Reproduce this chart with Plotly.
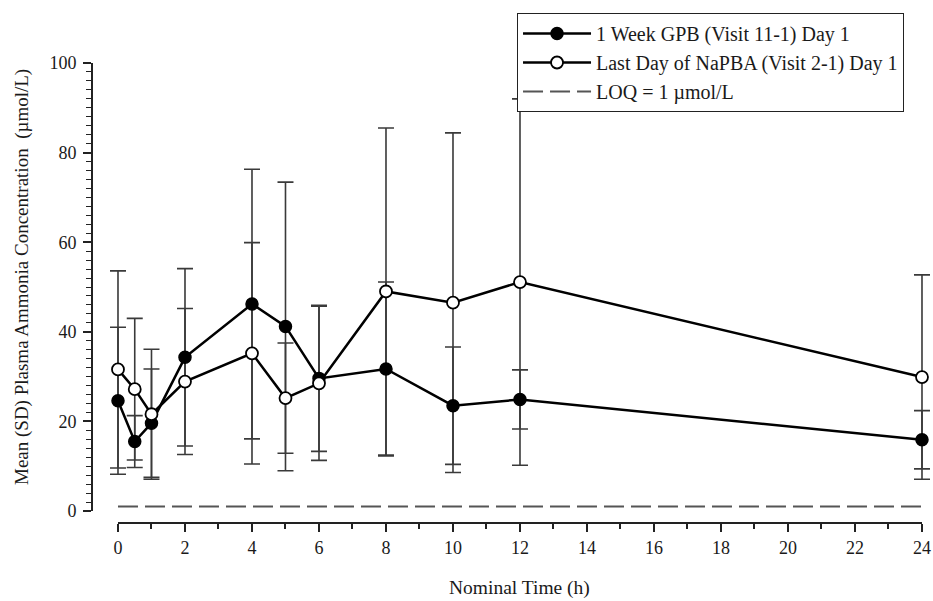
import plotly.graph_objects as go

times = [0, 0.5, 1, 2, 4, 5, 6, 8, 10, 12, 24]
gpb_mean = [24.6, 15.5, 19.6, 34.3, 46.2, 41.2, 29.6, 31.7, 23.5, 24.9, 15.9]
gpb_sd = [16.4, 5.8, 12.1, 19.8, 30.1, 32.2, 16.3, 19.4, 13.1, 6.6, 6.5]
napba_mean = [31.6, 27.2, 21.6, 28.9, 35.2, 25.2, 28.5, 49.0, 46.5, 51.1, 29.9]
napba_sd = [22.0, 15.8, 14.5, 16.3, 24.7, 12.3, 17.2, 36.5, 37.9, 40.9, 22.8]
loq_x = [0, 24]
loq_y = [1, 1]

name_gpb = "1 Week GPB (Visit 11-1) Day 1"
name_napba = "Last Day of NaPBA (Visit 2-1) Day 1"
name_loq = "LOQ = 1 µmol/L"
x_title = "Nominal Time (h)"
y_title = "Mean (SD) Plasma Ammonia Concentration  (µmol/L)"

FONT = "Liberation Serif"
ERRC = "#3a3a3a"

fig = go.Figure()

# error bars first (behind markers)
for m, sd in [(gpb_mean, gpb_sd), (napba_mean, napba_sd)]:
    fig.add_trace(go.Scatter(
        x=times, y=m, mode="markers",
        marker=dict(size=1, color="rgba(0,0,0,0)"),
        error_y=dict(type="data", array=sd, visible=True, color=ERRC,
                     thickness=1.6, width=8),
        showlegend=False, hoverinfo="skip"))

fig.add_trace(go.Scatter(
    x=times, y=gpb_mean, mode="lines+markers", name=name_gpb,
    line=dict(color="black", width=2.5),
    marker=dict(symbol="circle", size=12, color="black",
                line=dict(color="black", width=1.5))))

fig.add_trace(go.Scatter(
    x=times, y=napba_mean, mode="lines+markers", name=name_napba,
    line=dict(color="black", width=2.5),
    marker=dict(symbol="circle", size=12, color="white",
                line=dict(color="black", width=1.8))))

fig.add_trace(go.Scatter(
    x=loq_x, y=loq_y, mode="lines", name=name_loq,
    line=dict(color="#555555", width=2, dash="20px,7px")))

# x-axis line spanning 0..24 only
fig.add_shape(type="line", xref="x", yref="paper", x0=0, x1=24, y0=0, y1=0,
              line=dict(color="#222222", width=1.8))

# axis titles as annotations (exact placement)
fig.add_annotation(text=x_title, xref="paper", yref="paper", x=0.510, y=-0.141,
                   xanchor="center", yanchor="middle", showarrow=False,
                   font=dict(family=FONT, size=19.5, color="#1a1a1a"))
fig.add_annotation(text=y_title, xref="paper", yref="paper", x=-0.0848, y=0.5348,
                   xanchor="center", yanchor="middle", showarrow=False,
                   textangle=-90,
                   font=dict(family=FONT, size=19, color="#1a1a1a"))

fig.update_layout(
    width=933, height=601,
    margin=dict(l=93, r=3, t=63, b=78, autoexpand=False),
    paper_bgcolor="white", plot_bgcolor="white",
    font=dict(family=FONT, size=18, color="#1a1a1a"),
    showlegend=True,
    legend=dict(x=0.5066, y=1.1087, xanchor="left", yanchor="top",
                bgcolor="white", bordercolor="#222222", borderwidth=1,
                font=dict(family=FONT, size=20, color="#1a1a1a"),
                itemwidth=68, tracegroupgap=0),
    xaxis=dict(range=[-0.746, 24.239], anchor="free", position=0,
               automargin=False,
               showline=False, showgrid=False, zeroline=False,
               tickmode="array", tickvals=list(range(0, 25, 2)),
               ticks="outside", ticklen=8, tickwidth=1.5, tickcolor="#222222",
               minor=dict(tickvals=list(range(1, 24, 2)), ticks="outside",
                          ticklen=5, tickwidth=1.5, tickcolor="#222222"),
               tickfont=dict(family=FONT, size=18)),
    yaxis=dict(range=[0, 100], domain=[12 / 460, 1], automargin=False,
               showline=True, linecolor="#222222", linewidth=1.8,
               showgrid=False, zeroline=False,
               tickmode="array", tickvals=[0, 20, 40, 60, 80, 100],
               ticks="outside", ticklen=8, tickwidth=1.5, tickcolor="#222222",
               ticklabelstandoff=3,
               minor=dict(dtick=2, ticks="outside", ticklen=5, tickwidth=1.2,
                          tickcolor="#222222"),
               tickfont=dict(family=FONT, size=18)),
)

fig.write_html("out.html")
